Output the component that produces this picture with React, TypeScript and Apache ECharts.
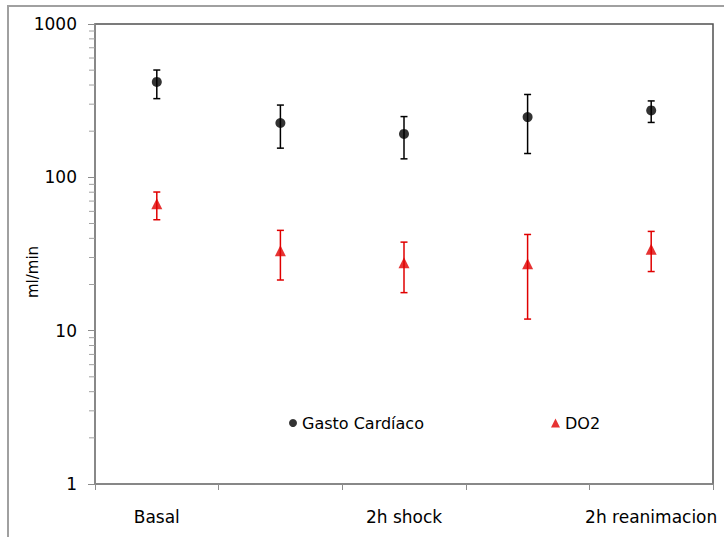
import React, { useEffect, useRef } from "react";
import * as echarts from "echarts";

// Time points (only every other one carries a visible label)
const categories = ["Basal", "", "2h shock", " ", "2h reanimacion"];

// Gasto Cardíaco (ml/min): mean with lower / upper error limits
const gcMean = [419, 226, 192, 247, 273];
const gcLow = [326, 155, 132, 143, 228];
const gcHigh = [501, 296, 249, 347, 315];

// DO2 (ml/min): mean with lower / upper error limits
const do2Mean = [67.3, 33.2, 27.7, 27.3, 34.0];
const do2Low = [52.9, 21.4, 17.7, 11.9, 24.3];
const do2High = [80.2, 45.1, 37.8, 42.4, 44.4];

// Log axis range and minor tick multipliers
const yMin = 1;
const yMax = 1000;
const minorMultipliers = [2, 3, 4, 5, 6, 7, 8, 9];
const decades = [1, 10, 100];

const FONT = "'DejaVu Sans', sans-serif";
const RED = "#e00000";

function errorBarSeries(name: string, low: number[], high: number[], color: string) {
  return {
    type: "custom",
    name: name + " error",
    z: 2,
    silent: true,
    data: low.map((l, i) => [i, l, high[i]]),
    renderItem: (_params: any, api: any) => {
      const i = api.value(0);
      const lo = api.coord([i, api.value(1)]);
      const hi = api.coord([i, api.value(2)]);
      const cap = 3.5;
      const style = { stroke: color, lineWidth: 1.5 };
      return {
        type: "group",
        children: [
          { type: "line", shape: { x1: hi[0], y1: hi[1], x2: lo[0], y2: lo[1] }, style },
          { type: "line", shape: { x1: hi[0] - cap, y1: hi[1], x2: hi[0] + cap, y2: hi[1] }, style },
          { type: "line", shape: { x1: lo[0] - cap, y1: lo[1], x2: lo[0] + cap, y2: lo[1] }, style },
        ],
      };
    },
  };
}

export default function App() {
  const ref = useRef<HTMLDivElement>(null);

  useEffect(() => {
    if (!ref.current) return;
    const chart = echarts.init(ref.current, undefined, { renderer: "svg" });

    const minorValues: number[] = [];
    decades.forEach((d) => minorMultipliers.forEach((m) => minorValues.push(d * m)));

    chart.setOption({
      animation: false,
      backgroundColor: "#ffffff",
      textStyle: { fontFamily: FONT },
      grid: {
        left: 95,
        right: 11,
        top: 24,
        bottom: 53,
        show: true,
        borderColor: "#505050",
        borderWidth: 1.5,
        backgroundColor: "transparent",
      },
      legend: [
        {
          data: [{ name: "Gasto Cardíaco", icon: "circle" }],
          left: 284,
          top: 410,
          itemWidth: 8,
          itemHeight: 8,
          textStyle: { fontFamily: FONT, fontSize: 16, color: "#000" },
        },
        {
          data: [{ name: "DO2", icon: "triangle" }],
          left: 546,
          top: 410,
          itemWidth: 9,
          itemHeight: 9,
          textStyle: { fontFamily: FONT, fontSize: 16, color: "#000" },
        },
      ],
      xAxis: {
        type: "category",
        data: categories,
        boundaryGap: true,
        axisLine: { lineStyle: { color: "#8c8c8c", width: 1.5 } },
        axisTick: { show: true, length: 6, interval: 0, lineStyle: { color: "#8c8c8c" } },
        axisLabel: { interval: 0, fontSize: 17, color: "#000", margin: 24, fontFamily: FONT },
        splitLine: { show: false },
      },
      yAxis: {
        type: "log",
        logBase: 10,
        min: yMin,
        max: yMax,
        axisLine: { show: true, lineStyle: { color: "#8c8c8c", width: 1.5 } },
        axisTick: { show: true, length: 7, lineStyle: { color: "#8c8c8c" } },
        axisLabel: {
          fontSize: 17,
          color: "#000",
          margin: 18,
          fontFamily: FONT,
          formatter: (v: number) => String(Math.round(v)),
        },
        splitLine: { show: false },
      },
      graphic: [
        {
          type: "rect",
          silent: true,
          shape: { x: 8, y: 6, width: 900, height: 800 },
          style: { fill: "none", stroke: "#a0a0a0", lineWidth: 2 },
          z: -10,
        },
        {
          type: "text",
          x: 33,
          y: 272,
          rotation: Math.PI / 2,
          style: {
            text: "ml/min",
            fontFamily: FONT,
            fontSize: 15,
            fill: "#000",
            align: "center",
            verticalAlign: "middle",
          },
        },
      ],
      series: [
        {
          type: "custom",
          name: "minor ticks",
          silent: true,
          clip: false,
          z: 1,
          data: minorValues.map((v) => [0, v]),
          renderItem: (params: any, api: any) => {
            const p = api.coord([0, api.value(1)]);
            const x0 = params.coordSys.x;
            return {
              type: "line",
              shape: { x1: x0 - 6, y1: p[1], x2: x0, y2: p[1] },
              style: { stroke: "#a0a0a0", lineWidth: 1 },
            };
          },
        },
        errorBarSeries("Gasto Cardíaco", gcLow, gcHigh, "#000000"),
        errorBarSeries("DO2", do2Low, do2High, RED),
        {
          type: "scatter",
          name: "Gasto Cardíaco",
          symbol: "circle",
          symbolSize: 10,
          z: 3,
          itemStyle: { color: "#000000" },
          data: gcMean,
        },
        {
          type: "scatter",
          name: "DO2",
          symbol: "triangle",
          symbolSize: 11,
          z: 3,
          itemStyle: { color: RED },
          data: do2Mean,
        },
      ],
    });

    return () => chart.dispose();
  }, []);

  return <div ref={ref} style={{ width: 724, height: 537, position: "absolute", left: 0, top: 0 }} />;
}
